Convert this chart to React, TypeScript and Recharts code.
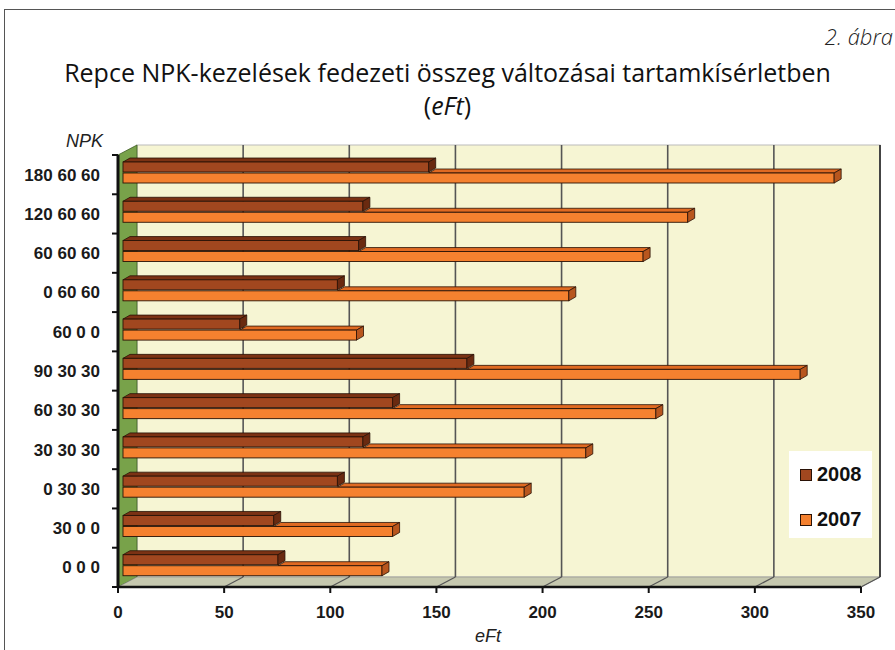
import React from 'react';
import { BarChart, Bar, XAxis, YAxis, Customized } from 'recharts';

const categories = ['180 60 60', '120 60 60', '60 60 60', '0 60 60', '60 0 0', '90 30 30', '60 30 30', '30 30 30', '0 30 30', '30 0 0', '0 0 0'];
const values2008 = [144, 113, 111, 101, 55, 162, 127, 113, 101, 71, 73];
const values2007 = [335, 266, 245, 210, 110, 319, 251, 218, 189, 127, 122];
const xTicks = [0, 50, 100, 150, 200, 250, 300, 350];
const seriesNames = ['2008', '2007'];

const data = categories.map((c, i) => ({ npk: c, y2008: values2008[i], y2007: values2007[i] }));

// chart frame
const W = 895;
const H = 650;
const PLOT = { x: 118, y: 155, w: 743, h: 432 };
const DEPTH = { dx: 19, dy: -10 };
const BAR_SHIFT = 5;
const CAP = { dx: 7, dy: -4 };

const label = { fontFamily: '"Liberation Sans", Arial, sans-serif', fontWeight: 700, fontSize: 17, fill: '#1a1a1a' };

const colors = {
  y2008: { front: '#A1471F', top: '#7B3214', side: '#6A2A10' },
  y2007: { front: '#F5812F', top: '#E06A22', side: '#B8561E' },
};

function Scene() {
  const { x, y, w, h } = PLOT;
  const { dx, dy } = DEPTH;
  const max = xTicks[xTicks.length - 1];
  const n = categories.length;
  return (
    <g>
      <rect x={x + dx} y={y + dy} width={w} height={h} fill="#F6F5D3" stroke="#bbb" strokeWidth={1} />
      <polygon points={`${x},${y} ${x + dx},${y + dy} ${x + dx},${y + h + dy} ${x},${y + h}`} fill="#78A24A" stroke="#3d5a22" strokeWidth={0.8} />
      <polygon points={`${x},${y + h} ${x + dx},${y + h + dy} ${x + w + dx},${y + h + dy} ${x + w},${y + h}`} fill="#C6C8AF" stroke="#888" strokeWidth={0.6} />
      {xTicks.slice(1, -1).map((t) => {
        const tx = x + (t / max) * w;
        return (
          <g key={t}>
            <line x1={tx + dx} y1={y + dy} x2={tx + dx} y2={y + h + dy} stroke="#555" strokeWidth={1.6} />
            <line x1={tx} y1={y + h} x2={tx + dx} y2={y + h + dy} stroke="#555" strokeWidth={1.2} />
          </g>
        );
      })}
      <line x1={x + w + dx} y1={y + dy} x2={x + w + dx} y2={y + h + dy} stroke="#444" strokeWidth={2} />
      <line x1={x + w + dx} y1={y + h + dy} x2={x + w} y2={y + h} stroke="#555" strokeWidth={1.2} />
      {Array.from({ length: n + 1 }, (_, i) => {
        const ty = y + (i * h) / n;
        return <line key={i} x1={x - 6} y1={ty} x2={x} y2={ty} stroke="#111" strokeWidth={2} />;
      })}
    </g>
  );
}

function Bar3D(props: any) {
  const { x, y, width, height, payload, dataKey } = props;
  if (!width || width <= 0) return null;
  const c = colors[dataKey as 'y2008' | 'y2007'];
  const fx = x + BAR_SHIFT;
  const fy = y - 2;
  const ex = fx + width;
  let tx = fx;
  if (dataKey === 'y2007') {
    const per = width / payload.y2007;
    tx = Math.min(ex, fx + payload.y2008 * per);
  }
  const stroke = '#2a1206';
  return (
    <g>
      <polygon points={`${tx},${fy} ${tx + CAP.dx},${fy + CAP.dy} ${ex + CAP.dx},${fy + CAP.dy} ${ex},${fy}`} fill={c.top} stroke={stroke} strokeWidth={0.8} />
      <rect x={fx} y={fy} width={width} height={height} fill={c.front} stroke={stroke} strokeWidth={0.9} />
      <polygon points={`${ex},${fy} ${ex + CAP.dx},${fy + CAP.dy} ${ex + CAP.dx},${fy + height + CAP.dy} ${ex},${fy + height}`} fill={c.side} stroke={stroke} strokeWidth={0.8} />
    </g>
  );
}

export default function App() {
  return (
    <div style={{ position: 'absolute', left: 0, top: 0, width: W, height: H, background: '#fff', overflow: 'hidden' }}>
      <div style={{ position: 'absolute', left: 4, top: 9, width: W, height: H, borderLeft: '1.5px solid #555', borderTop: '1.5px solid #555' }} />
      <div style={{ position: 'absolute', right: 2, top: 21, fontFamily: '"Open Sans", sans-serif', fontStyle: 'italic', fontWeight: 300, fontSize: 22, color: '#222' }}>2. ábra</div>
      <div style={{ position: 'absolute', left: 0, width: W, top: 56, textAlign: 'center', fontFamily: '"Open Sans", sans-serif', fontWeight: 500, fontSize: 25, lineHeight: '33px', color: '#111' }}>
        Repce NPK-kezelések fedezeti összeg változásai tartamkísérletben
        <br />(<i>eFt</i>)
      </div>
      <div style={{ position: 'absolute', left: 66, top: 131, fontFamily: '"Liberation Sans", Arial, sans-serif', fontStyle: 'italic', fontSize: 18, color: '#222' }}>NPK</div>
      <div style={{ position: 'absolute', left: 475, top: 626, fontFamily: '"Liberation Sans", Arial, sans-serif', fontStyle: 'italic', fontSize: 18, color: '#222' }}>eFt</div>
      <BarChart
        width={W}
        height={H}
        data={data}
        layout="vertical"
        margin={{ top: PLOT.y, right: W - PLOT.x - PLOT.w, bottom: H - PLOT.y - PLOT.h - 30, left: PLOT.x - 100 }}
        barSize={10}
        barGap={1}
        style={{ position: 'absolute', left: 0, top: 0 }}
      >
        <Customized component={<Scene />} />
        <XAxis
          type="number"
          domain={[0, 350]}
          ticks={xTicks}
          height={30}
          tick={label}
          tickSize={6}
          tickMargin={13}
          axisLine={{ stroke: '#111', strokeWidth: 2.5 }}
          tickLine={{ stroke: '#111', strokeWidth: 2 }}
        />
        <YAxis
          type="category"
          dataKey="npk"
          width={100}
          tick={label}
          tickSize={0}
          tickMargin={18}
          tickLine={false}
          axisLine={{ stroke: '#111', strokeWidth: 3 }}
        />
        <Bar dataKey="y2008" name={seriesNames[0]} shape={<Bar3D />} isAnimationActive={false} />
        <Bar dataKey="y2007" name={seriesNames[1]} shape={<Bar3D />} isAnimationActive={false} />
      </BarChart>
      <div style={{ position: 'absolute', left: 789, top: 451, width: 83, height: 87, background: '#fff' }}>
        {seriesNames.map((s, i) => (
          <div key={s} style={{ position: 'absolute', left: 11, top: 12 + i * 45, display: 'flex', alignItems: 'center' }}>
            <div style={{ width: 10, height: 10, background: i === 0 ? colors.y2008.front : colors.y2007.front, border: '1px solid #2a1206', marginRight: 5 }} />
            <span style={{ fontFamily: '"Liberation Sans", Arial, sans-serif', fontWeight: 700, fontSize: 20, color: '#111' }}>{s}</span>
          </div>
        ))}
      </div>
    </div>
  );
}
